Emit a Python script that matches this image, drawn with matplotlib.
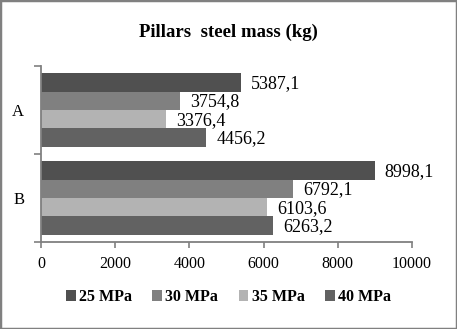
import numpy as np
import matplotlib
matplotlib.use("Agg")
import matplotlib.pyplot as plt
from matplotlib.patches import Rectangle

categories = ["A", "B"]
series = ["25 MPa", "30 MPa", "35 MPa", "40 MPa"]
values = [
    [5387.1, 8998.1],
    [3754.8, 6792.1],
    [3376.4, 6103.6],
    [4456.2, 6263.2],
]
colors = ["#505050", "#808080", "#b3b3b3", "#626262"]

plt.rcParams["font.family"] = ["Liberation Serif", "DejaVu Serif"]

fig = plt.figure(figsize=(4.57, 3.29), dpi=100)
ax = fig.add_axes([0.0897, 0.2644, 0.8118, 0.535])

y = np.arange(len(categories))
h = 0.21
for j, (name, vals) in enumerate(zip(series, values)):
    pos = y + (j - 1.5) * h
    bars = ax.barh(pos, vals, height=h, color=colors[j], label=name)
    for b, v in zip(bars, vals):
        ax.text(v + 270, b.get_y() + b.get_height() / 2 + 0.01, f"{v:.1f}".replace(".", ","),
                va="center", ha="left", fontsize=13)

ax.set_xlim(0, 10000)
ax.set_ylim(len(categories) - 0.5, -0.5)
ax.set_xticks(np.arange(0, 10001, 2000))
ax.set_yticks(y)
ax.set_yticklabels(categories)
ax.set_yticks([-0.5, 0.5, 1.5], minor=True)
ax.tick_params(axis="y", which="major", length=0, labelsize=12, pad=12)
ax.tick_params(axis="y", which="minor", length=5, color="#808080", width=1.2)
ax.tick_params(axis="x", length=4, color="#808080", width=1.2, labelsize=11.5, pad=6)
for s in ["top", "right"]:
    ax.spines[s].set_visible(False)
for s in ["left", "bottom"]:
    ax.spines[s].set_color("#808080")
    ax.spines[s].set_linewidth(1.3)

fig.text(0.5, 0.903, "Pillars  steel mass (kg)", ha="center", va="center",
         fontsize=13.5, fontweight="bold")

fig.legend(loc="center", bbox_to_anchor=(0.5, 0.097), ncol=4, frameon=False,
           prop={"weight": "bold", "size": 11.5}, handlelength=0.6, handleheight=0.6,
           handletextpad=0.2, columnspacing=1.3)

fig.patches.append(Rectangle((0, 0), 1, 1, transform=fig.transFigure, fill=False,
                             edgecolor="#808080", linewidth=2.5))

fig.savefig("out.png", dpi=100)
